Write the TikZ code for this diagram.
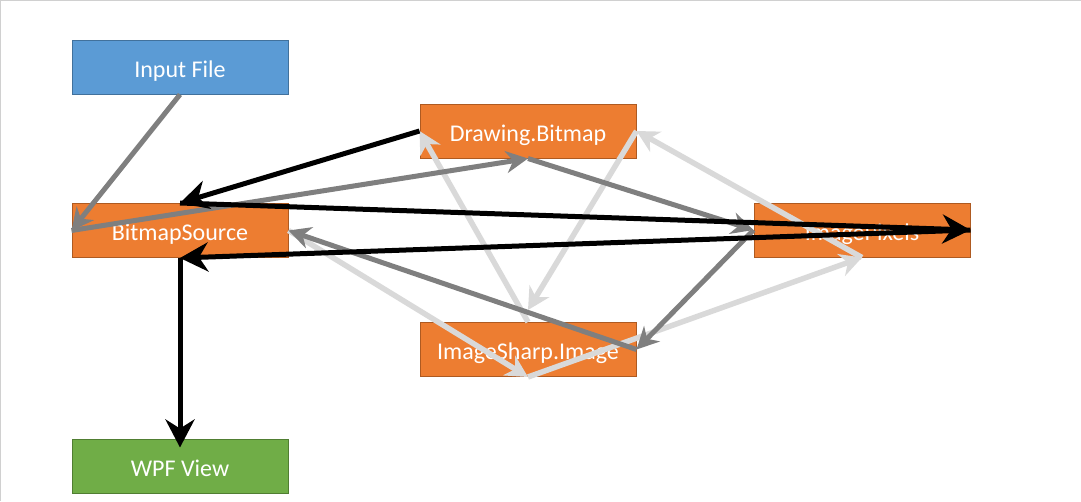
\documentclass[tikz,border=0pt]{standalone}
\usepackage{fontspec}
\setmainfont{Carlito}
\usetikzlibrary{arrows.meta}
\definecolor{orfill}{HTML}{ED7D31}
\definecolor{ordraw}{HTML}{AE5A21}
\definecolor{blfill}{HTML}{5B9BD5}
\definecolor{bldraw}{HTML}{41719C}
\definecolor{grfill}{HTML}{70AD47}
\definecolor{grdraw}{HTML}{507E32}
\definecolor{dkgray}{HTML}{7F7F7F}
\definecolor{ltgray}{HTML}{D9D9D9}
\definecolor{frame}{HTML}{D0D0D0}
\tikzset{
  box/.style={rectangle, minimum width=216pt, minimum height=54pt, inner sep=0pt,
    text height=24pt, text depth=4pt,
    line width=1pt, text=white, font=\fontsize{24}{28}\selectfont},
  obox/.style={box, fill=orfill, draw=ordraw},
  bbox/.style={box, fill=blfill, draw=bldraw},
  gbox/.style={box, fill=grfill, draw=grdraw},
  blk/.style={line width=5pt, black, -{Stealth[length=28pt,width=29pt,inset=9pt]}},
  dkg/.style={line width=5pt, dkgray, -{Stealth[length=22pt,width=22pt,inset=7pt]}},
  ltg/.style={line width=5.5pt, ltgray, -{Stealth[length=22pt,width=23pt,inset=7pt]}},
}
\begin{document}
\begin{tikzpicture}[x=1pt,y=-1pt]
\useasboundingbox (0,0) rectangle (1081,501);
\draw[frame, line width=1pt] (0.5,501) -- (0.5,0.5) -- (1081,0.5);

\node[bbox] (inp) at (180,67) {Input File};
\node[obox] (bs) at (180,230.5) {BitmapSource};
\node[gbox] (wpf) at (180,466) {WPF View};
\node[obox] (db) at (528,131) {Drawing.Bitmap};
\node[obox] (is) at (528,349.5) {ImageSharp.Image};
\node[obox] (ip) at (862,230) {ImagePixels};

% light gray connectors
\draw[ltg] (bs.east) -- (is.south);
\draw[ltg] (is.south) -- (ip.south);
\draw[ltg] (ip.south) -- (db.east);
\draw[ltg] (db.east) -- ([yshift=12pt]is.north);
\draw[ltg] (is.north) -- (db.west);

% dark gray connectors
\draw[dkg] (inp.south) -- (bs.west);
\draw[dkg] (bs.west) -- (db.south);
\draw[dkg] (db.south) -- (ip.west);
\draw[dkg] (ip.west) -- (is.east);
\draw[dkg] (is.east) -- (bs.east);

% black connectors
\draw[blk] (db.west) -- (bs.north);
\draw[blk] (bs.north) -- (ip.east);
\draw[blk] (ip.east) -- (bs.south);
\draw[blk] (bs.south) -- ([yshift=-9pt]wpf.north);
\end{tikzpicture}
\end{document}
